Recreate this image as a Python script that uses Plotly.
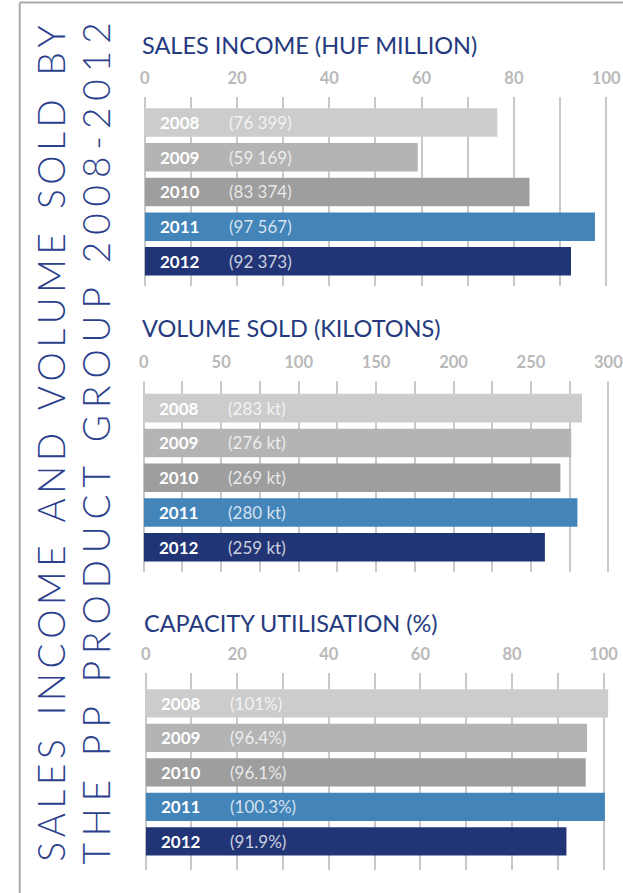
import plotly.graph_objects as go

# ---- data -------------------------------------------------------------
years = ["2008", "2009", "2010", "2011", "2012"]
sales_income = [76399, 59169, 83374, 97567, 92373]      # HUF million
volume_sold = [283, 276, 269, 280, 259]                  # kilotons
capacity_util = [101, 96.4, 96.1, 100.3, 91.9]           # percent

sales_ticks = [0, 20, 40, 60, 80, 100]
volume_ticks = [0, 50, 100, 150, 200, 250, 300]
capacity_ticks = [0, 20, 40, 60, 80, 100]

bar_colors = ["#cbcccb", "#b3b4b3", "#9d9e9d", "#4384b9", "#213576"]
title_color = "#253a7e"
grid_color = "#c9c9c9"
tick_color = "#b9b9b9"
FONT = "Lato"

W, H = 623, 893
rows = list(range(len(years)))   # one row slot per year, top to bottom


def py(px):
    """pixel row (from top) -> paper y"""
    return 1 - px / H


def px_x(px):
    return px / W


def fmt_thousands(v):
    return f"{v:,}".replace(",", " ")


panels = [
    dict(title="SALES INCOME (HUF MILLION)", title_y=45, title_x=142,
         values=[v / 1000 for v in sales_income],
         labels=[f"({fmt_thousands(v)})" for v in sales_income],
         ticks=sales_ticks, minor=10,
         x0=142, xmax=102.56, top=97, bottom=286, yr=[4.71, -0.735]),
    dict(title="VOLUME SOLD (KILOTONS)", title_y=328, title_x=142,
         values=volume_sold,
         labels=[f"({v} kt)" for v in volume_sold],
         ticks=volume_ticks, minor=25,
         x0=141, xmax=306.2, top=381, bottom=572, yr=[4.71, -0.78]),
    dict(title="CAPACITY UTILISATION (%)", title_y=623, title_x=144,
         values=capacity_util,
         labels=[f"({v:g}%)" for v in capacity_util],
         ticks=capacity_ticks, minor=10,
         x0=143, xmax=103.16, top=673, bottom=870, yr=[4.83, -0.88]),
]

fig = go.Figure()
annotations = []

for i, p in enumerate(panels, start=1):
    xa = "x" if i == 1 else f"x{i}"
    ya = "y" if i == 1 else f"y{i}"
    fig.add_trace(go.Bar(
        x=p["values"], y=rows, orientation="h",
        marker=dict(color=bar_colors, line=dict(width=0)),
        width=0.82, xaxis=xa, yaxis=ya, hoverinfo="skip",
        showlegend=False,
    ))
    axis_x = dict(
        domain=[px_x(p["x0"]), 1], range=[0, p["xmax"]], anchor=ya,
        side="top", tickmode="array", tickvals=p["ticks"],
        ticktext=[str(t) for t in p["ticks"]],
        tickfont=dict(family=FONT, size=16.5, color=tick_color, weight="bold"),
        ticks="", showline=False, ticklabelstandoff=9,
        ticklabeloverflow="allow",
        showgrid=True, gridcolor=grid_color, gridwidth=1.6,
        zeroline=True, zerolinecolor=grid_color, zerolinewidth=1.6,
        minor=dict(dtick=p["minor"], tick0=0, showgrid=True,
                   gridcolor=grid_color, gridwidth=1.6),
        fixedrange=True,
    )
    axis_y = dict(
        domain=[py(p["bottom"]), py(p["top"])], anchor=xa,
        type="linear", range=p["yr"], showticklabels=False, showgrid=False,
        zeroline=False, ticks="", fixedrange=True,
    )
    fig.update_layout(**{("xaxis" if i == 1 else f"xaxis{i}"): axis_x,
                         ("yaxis" if i == 1 else f"yaxis{i}"): axis_y})

    # panel heading
    annotations.append(dict(
        text=p["title"], xref="paper", yref="paper",
        x=px_x(p["title_x"]), y=py(p["title_y"]), xshift=-5,
        xanchor="left", yanchor="middle", showarrow=False,
        font=dict(family=FONT, size=23.5, color=title_color),
    ))
    # year and value labels inside each bar
    for r, yr, lab in zip(rows, years, p["labels"]):
        annotations.append(dict(
            text=f"<b>{yr}</b>", xref="paper", yref=ya,
            x=px_x(p["x0"]), y=r,
            xanchor="left", yanchor="middle", xshift=13, showarrow=False,
            font=dict(family=FONT, size=17, color="white"),
        ))
        annotations.append(dict(
            text=lab, xref="paper", yref=ya, x=px_x(p["x0"]), y=r,
            xanchor="left", yanchor="middle", xshift=82, showarrow=False,
            font=dict(family=FONT, size=17, color="rgba(255,255,255,0.78)"),
        ))

# spaced-out vertical headline
SP = "\u2009"
HAIR = "\u200a"


def spaced(s, letter_gap, word_gap):
    words = s.split(" ")
    return word_gap.join(letter_gap.join(w) for w in words)


headline = [
    ("SALES INCOME AND VOLUME SOLD BY", 46.5, SP, SP * 3 + " "),
    ("THE PP PRODUCT GROUP 2008-2012", 92, SP + HAIR, SP * 3 + " "),
]
for line, cx, lg, wg in headline:
    annotations.append(dict(
        text=spaced(line, lg, wg), xref="paper", yref="paper",
        x=px_x(cx), y=py(444), xanchor="center", yanchor="middle",
        textangle=-90, showarrow=False,
        font=dict(family=FONT, size=37, color="#2c3f8c", weight=300),
    ))

# frame lines (top and left)
shapes = [
    dict(type="line", xref="paper", yref="paper", x0=px_x(15), x1=1.01,
         y0=py(2.5), y1=py(2.5), line=dict(color="#a9a9a9", width=2)),
    dict(type="line", xref="paper", yref="paper", x0=px_x(15), x1=px_x(15),
         y0=py(2.5), y1=-0.01, line=dict(color="#a9a9a9", width=2)),
]

fig.update_layout(
    width=W, height=H, margin=dict(l=0, r=0, t=0, b=0),
    paper_bgcolor="white", plot_bgcolor="white",
    annotations=annotations, shapes=shapes, bargap=0.18,
    font=dict(family=FONT),
)

fig.write_html("out.html")
